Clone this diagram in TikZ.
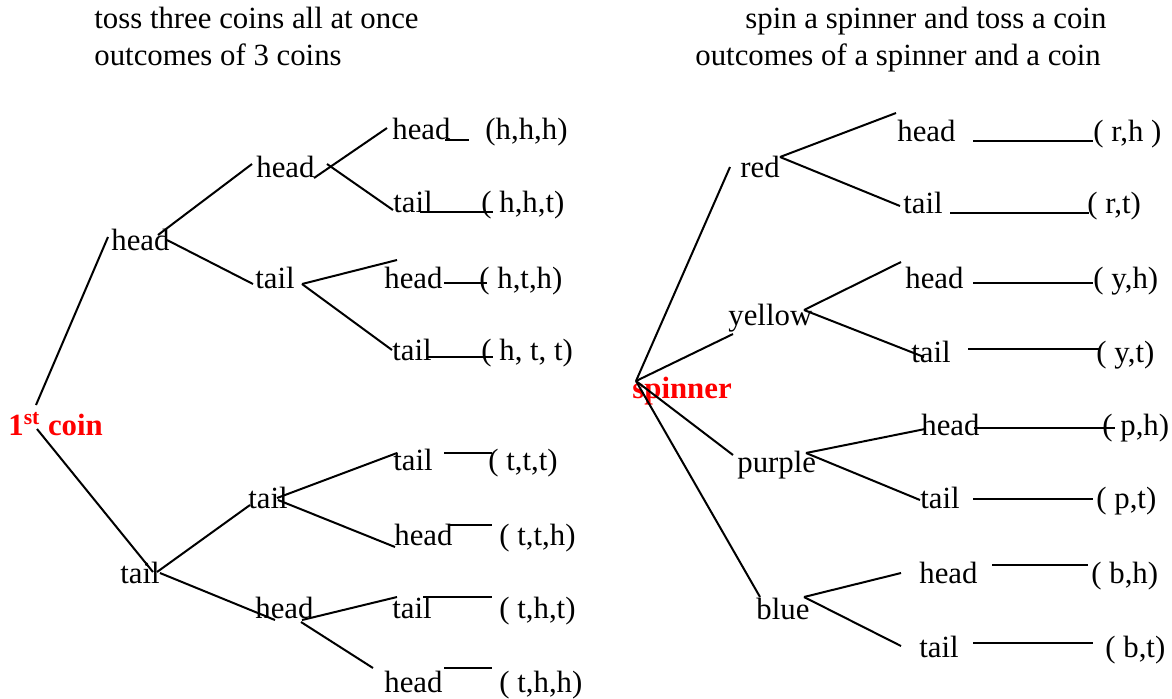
\documentclass[tikz,border=0pt]{standalone}
\usepackage{fontspec}
\setmainfont{Liberation Serif}
\begin{document}
\begin{tikzpicture}[x=0.5pt,y=-0.5pt,
  lbl/.style={anchor=base west, inner sep=0pt, font=\fontsize{15.4}{18}\selectfont},
  rootlbl/.style={lbl, text=red, font=\fontsize{15.4}{18}\selectfont\bfseries},
  branch/.style={draw=black, line width=1pt},
  bar/.style={draw=black, line width=1pt}]
\useasboundingbox (0,0) rectangle (1172,698);

% ---------- headings ----------
\node[lbl] (headA1) at (94,28) {toss three coins all at once};
\node[lbl] (headA2) at (94,65) {outcomes of 3 coins};
\node[lbl] (headB1) at (745,28) {spin a spinner and toss a coin};
\node[lbl] (headB2) at (695,65) {outcomes of a spinner and a coin};

% ---------- three coins ----------
\node[rootlbl] (coin) at (8,435) {1\textsuperscript{st} coin};
\node[lbl] (h) at (111,250) {head};
\node[lbl] (t) at (120,583) {tail};
\node[lbl] (hh) at (256,177) {head};
\node[lbl] (ht) at (255,288) {tail};
\node[lbl] (tt) at (248,508) {tail};
\node[lbl] (th) at (255,618) {head};

\node[lbl] (hhh) at (392,139) {head};
\node[lbl] (hht) at (393,212) {tail};
\node[lbl] (hth) at (384,288) {head};
\node[lbl] (htt) at (392,360) {tail};
\node[lbl] (ttt) at (393,470) {tail};
\node[lbl] (tth) at (394,545) {head};
\node[lbl] (tht) at (392,618) {tail};
\node[lbl] (thh) at (384,692) {head};

\node[lbl] (ohhh) at (485,139) {(h,h,h)};
\node[lbl] (ohht) at (481,212) {( h,h,t)};
\node[lbl] (ohth) at (479,288) {( h,t,h)};
\node[lbl] (ohtt) at (481,360) {( h, t, t)};
\node[lbl] (ottt) at (488,470) {( t,t,t)};
\node[lbl] (otth) at (499,545) {( t,t,h)};
\node[lbl] (otht) at (499,618) {( t,h,t)};
\node[lbl] (othh) at (499,692) {( t,h,h)};

% branch end points
\coordinate (coinUp) at (36,405);   \coordinate (hIn) at (108,237);
\coordinate (coinDn) at (37,429);   \coordinate (tIn) at (153,572);
\coordinate (hOutA) at (158,235);   \coordinate (hhIn) at (252,164);
\coordinate (hOutB) at (167,240);   \coordinate (htIn) at (253,284);
\coordinate (tOutA) at (157,572);   \coordinate (ttIn) at (250,505);
\coordinate (tOutB) at (160,573);   \coordinate (thIn) at (275,620);
\coordinate (hhOutA) at (314,178);  \coordinate (hhhIn) at (387,128);
\coordinate (hhOutB) at (327,164);  \coordinate (hhtIn) at (393,210);
\coordinate (htOut) at (302,284);   \coordinate (hthIn) at (397,260);
                                    \coordinate (httIn) at (392,350);
\coordinate (ttOutA) at (277,498);  \coordinate (tttIn) at (397,453);
\coordinate (ttOutB) at (278,500);  \coordinate (tthIn) at (395,547);
\coordinate (thOutA) at (302,620);  \coordinate (thtIn) at (397,597);
\coordinate (thOutB) at (301,622);  \coordinate (thhIn) at (373,668);

\draw[branch] (coinUp) -- (hIn);
\draw[branch] (coinDn) -- (tIn);
\draw[branch] (hOutA) -- (hhIn);
\draw[branch] (hOutB) -- (htIn);
\draw[branch] (tOutA) -- (ttIn);
\draw[branch] (tOutB) -- (thIn);
\draw[branch] (hhOutA) -- (hhhIn);
\draw[branch] (hhOutB) -- (hhtIn);
\draw[branch] (htOut) -- (hthIn);
\draw[branch] (htOut) -- (httIn);
\draw[branch] (ttOutA) -- (tttIn);
\draw[branch] (ttOutB) -- (tthIn);
\draw[branch] (thOutA) -- (thtIn);
\draw[branch] (thOutB) -- (thhIn);

% rules leading to the outcomes
\coordinate (r1a) at (445,140); \coordinate (r1b) at (469,140);
\coordinate (r2a) at (420,212); \coordinate (r2b) at (493,212);
\coordinate (r3a) at (444,283); \coordinate (r3b) at (487,283);
\coordinate (r4a) at (427,357); \coordinate (r4b) at (493,357);
\coordinate (r5a) at (444,453); \coordinate (r5b) at (492,453);
\coordinate (r6a) at (448,525); \coordinate (r6b) at (492,525);
\coordinate (r7a) at (423,597); \coordinate (r7b) at (492,597);
\coordinate (r8a) at (444,668); \coordinate (r8b) at (492,668);
\foreach \i in {1,...,8} \draw[bar] (r\i a) -- (r\i b);

% ---------- spinner and coin ----------
\node[rootlbl] (spin) at (632,398) {spinner};
\node[lbl] (red) at (740,177) {red};
\node[lbl] (yel) at (728,325) {yellow};
\node[lbl] (pur) at (737,472) {purple};
\node[lbl] (blu) at (756,619) {blue};

\node[lbl] (rh) at (897,141) {head};
\node[lbl] (rt) at (903,213) {tail};
\node[lbl] (yh) at (905,288) {head};
\node[lbl] (yt) at (911,362) {tail};
\node[lbl] (ph) at (921,435) {head};
\node[lbl] (pt) at (920,508) {tail};
\node[lbl] (bh) at (919,583) {head};
\node[lbl] (bt) at (919,657) {tail};

\node[lbl] (orh) at (1093,141) {( r,h )};
\node[lbl] (ort) at (1087,213) {( r,t)};
\node[lbl] (oyh) at (1093,288) {( y,h)};
\node[lbl] (oyt) at (1096,362) {( y,t)};
\node[lbl] (oph) at (1102,435) {( p,h)};
\node[lbl] (opt) at (1096,508) {( p,t)};
\node[lbl] (obh) at (1091,583) {( b,h)};
\node[lbl] (obt) at (1105,657) {( b,t)};

\coordinate (apex) at (636,381);
\coordinate (redIn) at (730,167);
\coordinate (yelIn) at (733,334);
\coordinate (purIn) at (733,455);
\coordinate (bluIn) at (760,597);
\coordinate (redOut) at (780,157);
\coordinate (yelOut) at (804,310);
\coordinate (purOut) at (806,453);
\coordinate (bluOut) at (804,597);
\coordinate (rhIn) at (896,113);  \coordinate (rtIn) at (900,206);
\coordinate (yhIn) at (901,262);  \coordinate (ytIn) at (924,357);
\coordinate (phIn) at (925,429);  \coordinate (ptIn) at (920,500);
\coordinate (bhIn) at (901,573);  \coordinate (btIn) at (901,646);

\draw[branch] (apex) -- (redIn);
\draw[branch] (apex) -- (yelIn);
\draw[branch] (apex) -- (purIn);
\draw[branch] (apex) -- (bluIn);
\draw[branch] (redOut) -- (rhIn);
\draw[branch] (redOut) -- (rtIn);
\draw[branch] (yelOut) -- (yhIn);
\draw[branch] (yelOut) -- (ytIn);
\draw[branch] (purOut) -- (phIn);
\draw[branch] (purOut) -- (ptIn);
\draw[branch] (bluOut) -- (bhIn);
\draw[branch] (bluOut) -- (btIn);

\coordinate (s1a) at (973,141);  \coordinate (s1b) at (1093,141);
\coordinate (s2a) at (950,213);  \coordinate (s2b) at (1089,213);
\coordinate (s3a) at (973,283);  \coordinate (s3b) at (1093,283);
\coordinate (s4a) at (968,349);  \coordinate (s4b) at (1100,349);
\coordinate (s5a) at (974,428);  \coordinate (s5b) at (1115,428);
\coordinate (s6a) at (973,499);  \coordinate (s6b) at (1093,499);
\coordinate (s7a) at (992,565);  \coordinate (s7b) at (1088,565);
\coordinate (s8a) at (973,643);  \coordinate (s8b) at (1093,643);
\foreach \i in {1,...,8} \draw[bar] (s\i a) -- (s\i b);
\end{tikzpicture}
\end{document}
